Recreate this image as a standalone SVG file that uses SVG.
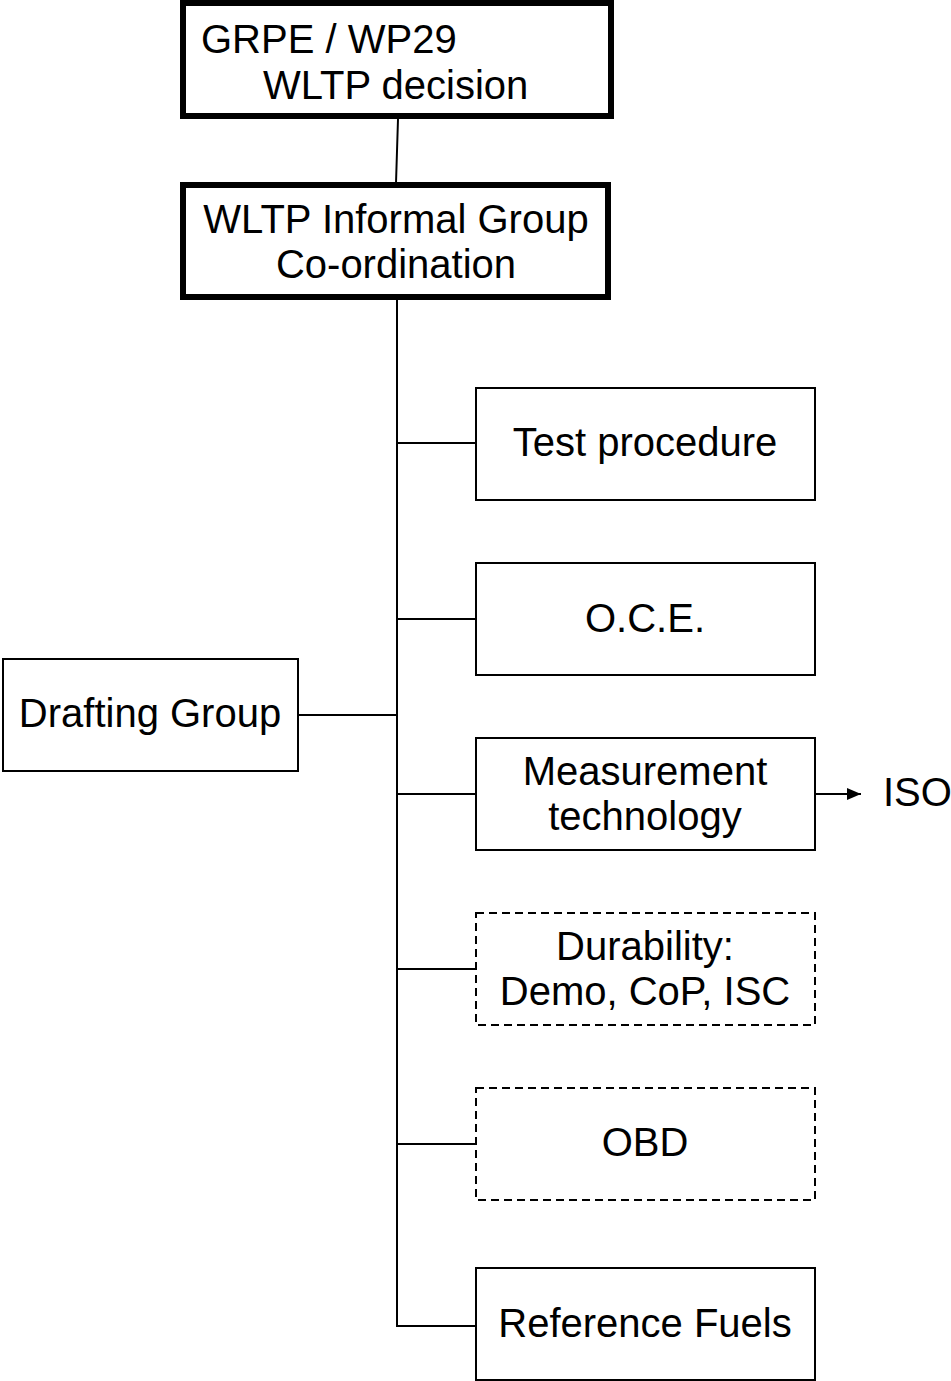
<svg xmlns="http://www.w3.org/2000/svg" width="951" height="1381" viewBox="0 0 951 1381">
<style>
text{font-family:"Liberation Sans",Arial,sans-serif;font-size:40px;fill:#000}
.c{text-anchor:middle}
.box{fill:#fff;stroke:#000;stroke-width:2}
.thick{fill:#fff;stroke:#000;stroke-width:6}
.dash{fill:#fff;stroke:#000;stroke-width:2;stroke-dasharray:8,5}
.ln{fill:none;stroke:#000;stroke-width:2}
</style>
<defs>
<marker id="arr" markerWidth="14" markerHeight="12" refX="14" refY="6" orient="auto" markerUnits="userSpaceOnUse" viewBox="0 0 14 12">
<path d="M0,0 L14,6 L0,12 Z" fill="#000"/>
</marker>
</defs>
<g id="connectors">
<line class="ln" x1="398" y1="119" x2="396" y2="183"/>
<polyline class="ln" points="397,299 397,1326 476,1326"/>
<line class="ln" x1="397" y1="443" x2="476" y2="443"/>
<line class="ln" x1="397" y1="619" x2="476" y2="619"/>
<line class="ln" x1="397" y1="794" x2="476" y2="794"/>
<line class="ln" x1="397" y1="969" x2="476" y2="969"/>
<line class="ln" x1="397" y1="1144" x2="476" y2="1144"/>
<line class="ln" x1="298" y1="715" x2="397" y2="715"/>
<line class="ln" x1="815" y1="794" x2="861" y2="794" marker-end="url(#arr)"/>
</g>
<g id="grpe">
<rect class="thick" x="183" y="3" width="428" height="113"/>
<text x="201" y="53">GRPE / WP29</text>
<text x="263" y="99">WLTP decision</text>
</g>
<g id="wltp">
<rect class="thick" x="183" y="185" width="425" height="112"/>
<text class="c" x="396" y="233">WLTP Informal Group</text>
<text class="c" x="396" y="278">Co-ordination</text>
</g>
<g id="test">
<rect class="box" x="476" y="388" width="339" height="112"/>
<text class="c" x="645" y="456">Test procedure</text>
</g>
<g id="oce">
<rect class="box" x="476" y="563" width="339" height="112"/>
<text class="c" x="645" y="632">O.C.E.</text>
</g>
<g id="measurement">
<rect class="box" x="476" y="738" width="339" height="112"/>
<text class="c" x="645" y="785">Measurement</text>
<text class="c" x="645" y="830">technology</text>
</g>
<g id="iso">
<text x="883" y="806">ISO</text>
</g>
<g id="durability">
<rect class="dash" x="476" y="913" width="339" height="112"/>
<text class="c" x="645" y="960">Durability:</text>
<text class="c" x="645" y="1005">Demo, CoP, ISC</text>
</g>
<g id="obd">
<rect class="dash" x="476" y="1088" width="339" height="112"/>
<text class="c" x="645" y="1156">OBD</text>
</g>
<g id="fuels">
<rect class="box" x="476" y="1268" width="339" height="112"/>
<text class="c" x="645" y="1337">Reference Fuels</text>
</g>
<g id="drafting">
<rect class="box" x="3" y="659" width="295" height="112"/>
<text class="c" x="150" y="727">Drafting Group</text>
</g>
</svg>
